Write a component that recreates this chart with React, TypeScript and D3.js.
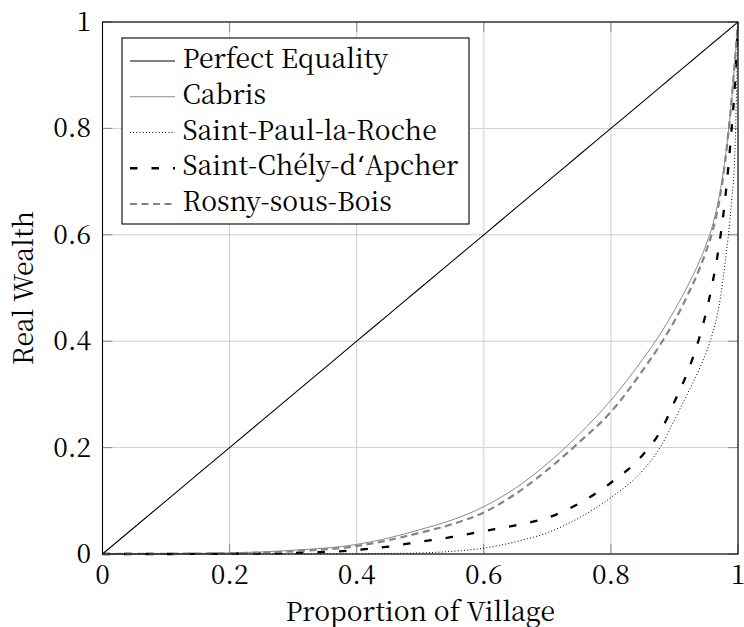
import React from 'react';
import * as d3 from 'd3';

// proportion of village (x) shared by every curve
const proportion = [0, 0.1, 0.2, 0.3, 0.4, 0.45, 0.5, 0.55, 0.6, 0.65, 0.7, 0.75, 0.8, 0.85, 0.88, 0.9, 0.92, 0.94, 0.95, 0.96, 0.97, 0.98, 0.99, 0.995, 1];

const cabris = [0, 0.0005, 0.002, 0.007, 0.018, 0.03, 0.046, 0.064, 0.089, 0.124, 0.17, 0.225, 0.289, 0.366, 0.418, 0.458, 0.502, 0.552, 0.582, 0.618, 0.67, 0.745, 0.855, 0.925, 1];
const saintPaul = [0, 0, 0, 0, 0.0003, 0.001, 0.002, 0.005, 0.011, 0.023, 0.04, 0.068, 0.106, 0.157, 0.205, 0.252, 0.3, 0.35, 0.379, 0.415, 0.465, 0.55, 0.665, 0.75, 1];
const saintChely = [0, 0, 0.0005, 0.002, 0.0075, 0.014, 0.023, 0.032, 0.043, 0.054, 0.068, 0.095, 0.134, 0.186, 0.235, 0.286, 0.34, 0.41, 0.455, 0.51, 0.578, 0.67, 0.8, 0.88, 1];
const rosny = [0, 0.0004, 0.0015, 0.005, 0.015, 0.026, 0.04, 0.056, 0.078, 0.113, 0.158, 0.21, 0.267, 0.345, 0.398, 0.438, 0.485, 0.538, 0.57, 0.607, 0.66, 0.74, 0.855, 0.925, 1];
const equality = proportion.slice();

const tickValues = [0, 0.2, 0.4, 0.6, 0.8, 1];
const tickLabels = ['0', '0.2', '0.4', '0.6', '0.8', '1'];

const seriesNames = ['Perfect Equality', 'Cabris', 'Saint-Paul-la-Roche', 'Saint-Chély-d‘Apcher', 'Rosny-sous-Bois'];

const styles = [
  { stroke: '#000', width: 1.1, dash: null },
  { stroke: '#8a8a8a', width: 1, dash: null },
  { stroke: '#000', width: 1, dash: '1 2.2' },
  { stroke: '#000', width: 2.3, dash: '7.5 14' },
  { stroke: '#858585', width: 2.2, dash: '7 4.5' },
];

const W = 744;
const H = 627;
const left = 102.5, right = 738, top = 22, bottom = 554;
const serif = { fontFamily: '"Noto Serif CJK SC", "DejaVu Serif", serif' };
const quoteFont = { fontFamily: '"DejaVu Serif", serif' };
const fs = 26.5;

// the CJK font draws ‘ full width, so give it a latin face
const label = (name: string) => {
  const parts = name.split('‘');
  return parts.map((p, i) => (
    <React.Fragment key={i}>
      {i > 0 && <tspan style={quoteFont}>‘</tspan>}
      {p}
    </React.Fragment>
  ));
};

export default function App() {
  const x = d3.scaleLinear().domain([0, 1]).range([left, right]);
  const y = d3.scaleLinear().domain([0, 1]).range([bottom, top]);

  const line = d3
    .line<[number, number]>()
    .x(d => x(d[0]))
    .y(d => y(d[1]))
    .curve(d3.curveMonotoneX);

  const series = [equality, cabris, saintPaul, saintChely, rosny];
  const paths = series.map(vals => line(proportion.map((p, i) => [p, vals[i]]) as [number, number][]));

  const legendX = 122, legendY = 38, legendW = 347, legendH = 186;
  const rowGap = 35.75;

  return (
    <svg width={W} height={H} style={{ position: 'absolute', left: 0, top: 0, display: 'block' }}>
      <rect width={W} height={H} fill="#fff" />

      {/* grid */}
      <g stroke="#cfcfcf" strokeWidth={1}>
        {tickValues.map(t => (
          <line key={'gx' + t} x1={x(t)} x2={x(t)} y1={top} y2={bottom} />
        ))}
        {tickValues.map(t => (
          <line key={'gy' + t} x1={left} x2={right} y1={y(t)} y2={y(t)} />
        ))}
      </g>

      {/* inner ticks */}
      <g stroke="#888" strokeWidth={1}>
        {tickValues.map(t => (
          <g key={'t' + t}>
            <line x1={x(t)} x2={x(t)} y1={bottom} y2={bottom - 10} />
            <line x1={x(t)} x2={x(t)} y1={top} y2={top + 10} />
            <line x1={left} x2={left + 10} y1={y(t)} y2={y(t)} />
            <line x1={right} x2={right - 10} y1={y(t)} y2={y(t)} />
          </g>
        ))}
      </g>

      {/* curves */}
      <g fill="none">
        {paths.map((d, i) => (
          <path
            key={i}
            d={d || ''}
            stroke={styles[i].stroke}
            strokeWidth={styles[i].width}
            strokeDasharray={styles[i].dash || undefined}
          />
        ))}
      </g>

      {/* frame */}
      <rect x={left} y={top} width={right - left} height={bottom - top} fill="none" stroke="#000" strokeWidth={1.1} />

      {/* tick labels */}
      <g fontSize={fs} fill="#000">
        {tickValues.map((t, i) => (
          <text key={'xl' + t} x={x(t)} y={584} textAnchor="middle" style={serif}>
            {tickLabels[i]}
          </text>
        ))}
        {tickValues.map((t, i) => (
          <text key={'yl' + t} x={91} y={y(t)} dy="0.34em" textAnchor="end" style={serif}>
            {tickLabels[i]}
          </text>
        ))}
      </g>

      {/* axis titles */}
      <text x={(left + right) / 2} y={620.5} textAnchor="middle" fontSize={fs} style={serif}>
        Proportion of Village
      </text>
      <text transform={`translate(33,${(top + bottom) / 2}) rotate(-90)`} textAnchor="middle" fontSize={fs} style={serif}>
        Real Wealth
      </text>

      {/* legend */}
      <g>
        <rect x={legendX} y={legendY} width={legendW} height={legendH} fill="#fff" stroke="#000" strokeWidth={1.1} />
        {seriesNames.map((name, i) => {
          const base = 68 + i * rowGap;
          return (
            <g key={name}>
              <line
                x1={130}
                x2={175}
                y1={base - 7}
                y2={base - 7}
                stroke={styles[i].stroke}
                strokeWidth={styles[i].width}
                strokeDasharray={styles[i].dash || undefined}
              />
              <text x={182.5} y={base} fontSize={fs} style={serif}>
                {label(name)}
              </text>
            </g>
          );
        })}
      </g>
    </svg>
  );
}
